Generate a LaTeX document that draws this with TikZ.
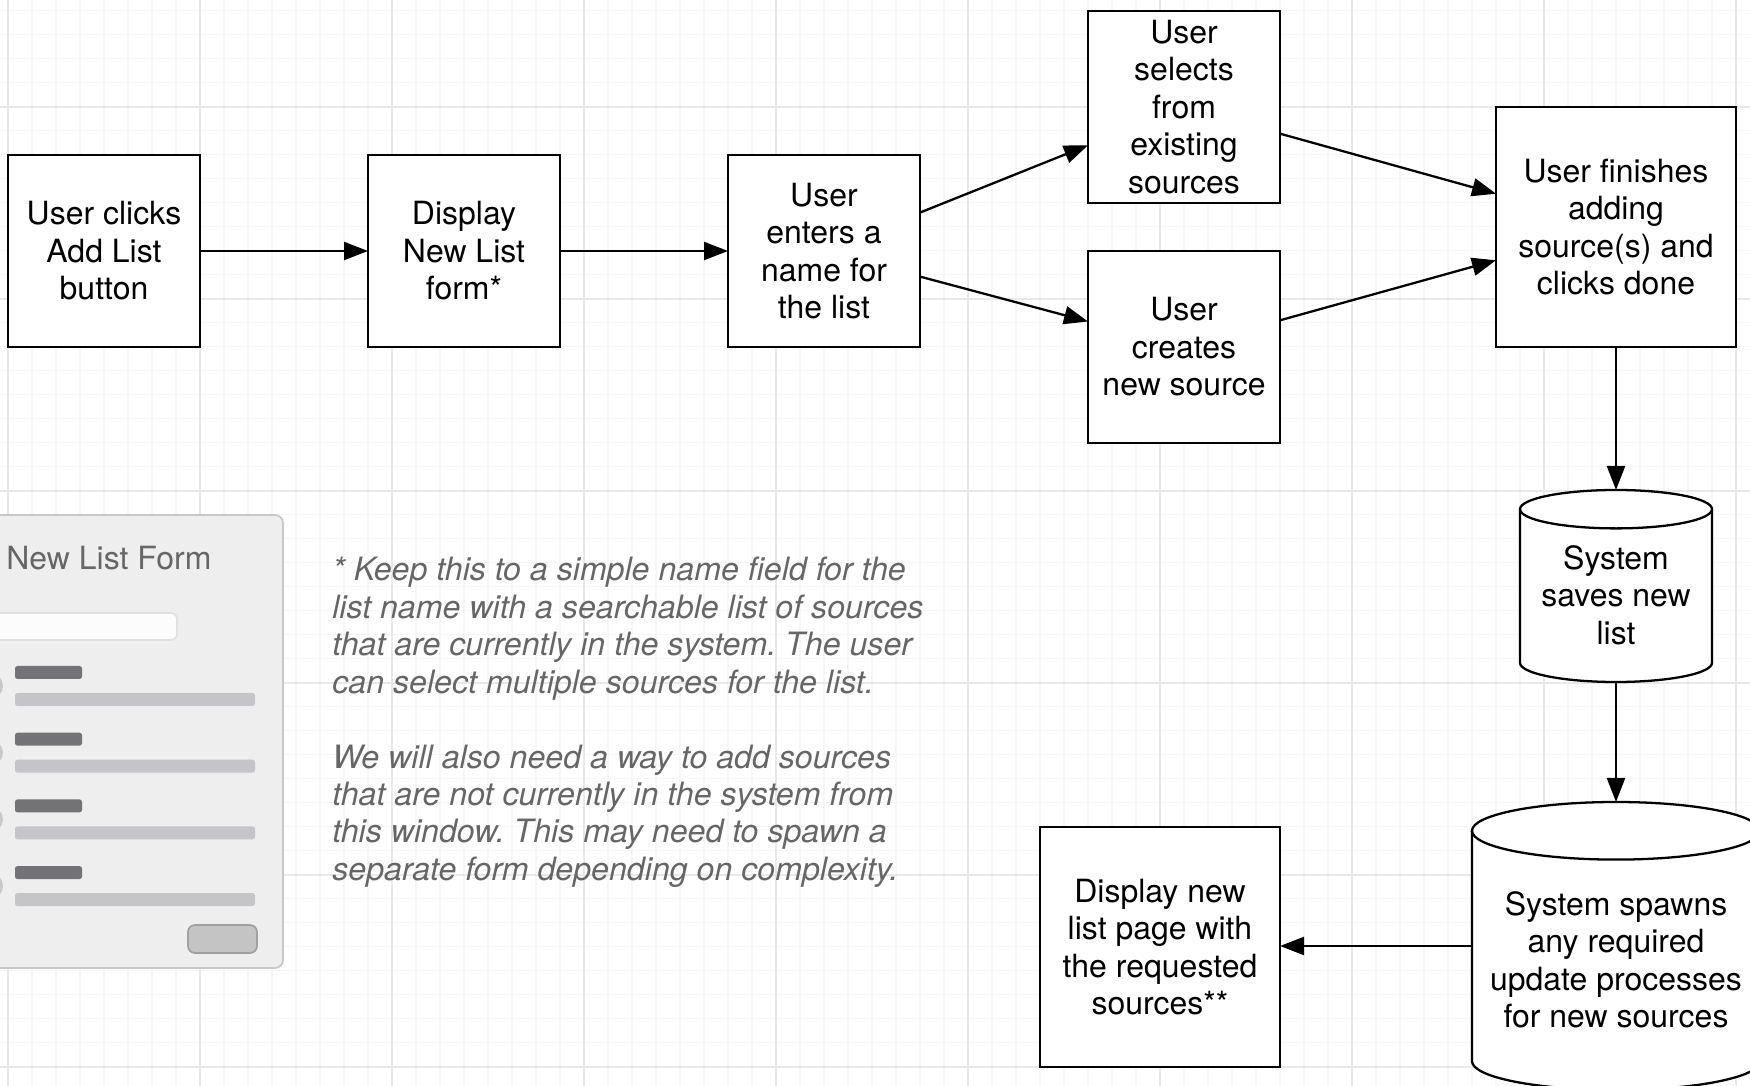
\documentclass[tikz,border=0pt]{standalone}
\usepackage{fontspec}
\setmainfont{TeX Gyre Heros}
\usetikzlibrary{arrows.meta}
\definecolor{gridminor}{HTML}{F6F6F6}
\definecolor{gridmajor}{HTML}{E9E9E9}
\definecolor{formfill}{HTML}{EEEEEE}
\definecolor{formline}{HTML}{C8C8C8}
\definecolor{formtext}{HTML}{666666}
\definecolor{fieldfill}{HTML}{FCFCFD}
\definecolor{fieldline}{HTML}{E0E0E0}
\definecolor{bardark}{HTML}{737276}
\definecolor{barlight}{HTML}{C5C4C9}
\definecolor{btnfill}{HTML}{C4C4C4}
\definecolor{btnline}{HTML}{A0A0A0}
\definecolor{notetext}{HTML}{666666}
\frenchspacing
\begin{document}
\begin{tikzpicture}[font=\fontsize{18.2}{21.3}\selectfont,
    procbox/.style={draw, line width=1.3pt, fill=white, minimum width=3.84cm,
      minimum height=3.84cm, inner sep=0pt, outer sep=0pt, align=center},
    widebox/.style={procbox, minimum width=4.8cm, minimum height=4.8cm},
    cylbox/.style={inner sep=0pt, outer sep=0pt},
    flow/.style={line width=1.3pt, -{Triangle[length=0.48cm, width=0.36cm]}}]
  \useasboundingbox (0,0) rectangle (35,-21.72);
  \clip (0,0) rectangle (35,-21.72);
  \fill[white] (0,0) rectangle (35,-21.72);
  % background grid
  \foreach \gx in {0,...,72}{
    \draw[gridminor, line width=0.9pt] ({0.16+0.48*\gx},0) -- ++(0,-21.72);
  }
  \foreach \gy in {0,...,44}{
    \draw[gridminor, line width=0.9pt] (0,{-0.213-0.48*\gy}) -- ++(35,0);
  }
  \foreach \gx in {0,...,9}{
    \draw[gridmajor, line width=1.1pt] ({0.16+3.84*\gx},0) -- ++(0,-21.72);
  }
  \foreach \gy in {0,...,5}{
    \draw[gridmajor, line width=1.1pt] (0,{-2.133-3.84*\gy}) -- ++(35,0);
  }
  % form mockup
  \draw[fill=formfill, draw=formline, line width=1pt, rounded corners=0.16cm]
    (-0.4,-10.3) rectangle (5.66,-19.36);
  \node[anchor=base west, inner sep=0pt, text=formtext] (formtitle) at (0.12,-11.4)
    {New List Form};
  \draw[fill=fieldfill, draw=fieldline, line width=1pt, rounded corners=0.12cm]
    (-0.3,-12.26) rectangle (3.54,-12.8);
  \foreach \rw in {0,...,3}{
    \fill[formline] (-0.2,{-13.72-1.334*\rw}) circle (0.26);
    \fill[bardark, rounded corners=0.05cm]
      (0.3,{-13.32-1.334*\rw}) rectangle (1.64,{-13.58-1.334*\rw});
    \fill[barlight, rounded corners=0.05cm]
      (0.3,{-13.86-1.334*\rw}) rectangle (5.1,{-14.12-1.334*\rw});
  }
  \draw[fill=btnfill, draw=btnline, line width=1pt, rounded corners=0.14cm]
    (3.76,-18.5) rectangle (5.14,-19.06);
  % note
  \node[anchor=north west, align=left, inner sep=0pt, text=notetext,
    font=\fontsize{18.3}{21.3}\selectfont\itshape] (note) at (6.64,-11.14)
    {* Keep this to a simple name field for the\\
     list name with a searchable list of sources\\
     that are currently in the system. The user\\
     can select multiple sources for the list.\\[0.748cm]
     We will also need a way to add sources\\
     that are not currently in the system from\\
     this window. This may need to spawn a\\
     separate form depending on complexity.};
  % flow steps
  \node[procbox] (click) at (2.08,-5.02) {User clicks\\Add List\\button};
  \node[procbox] (form) at (9.28,-5.02) {Display\\New List\\form*};
  \node[procbox] (name) at (16.48,-5.02) {User\\enters a\\name for\\the list};
  \node[procbox] (select) at (23.68,-2.14) {User\\selects\\from\\existing\\sources};
  \node[procbox] (create) at (23.68,-6.94) {User\\creates\\new source};
  \node[widebox] (finish) at (32.32,-4.54) {User finishes\\adding\\source(s) and\\clicks done};
  \node[widebox] (show) at (23.2,-18.94) {Display new\\list page with\\the requested\\sources**};
  % cylinders
  \node[cylbox, minimum width=3.84cm, minimum height=3.84cm] (save) at (32.32,-11.72) {};
  \draw[line width=1.3pt, fill=white]
    ([yshift=-0.384cm]save.north west) -- ([yshift=0.384cm]save.south west)
    arc[start angle=180, end angle=360, x radius=1.92, y radius=0.384]
    -- ([yshift=-0.384cm]save.north east)
    arc[start angle=0, end angle=180, x radius=1.92, y radius=0.384] -- cycle;
  \draw[line width=1.3pt] ([yshift=-0.384cm]save.north west)
    arc[start angle=180, end angle=360, x radius=1.92, y radius=0.384];
  \node[align=center] (savetext) at (32.32,-11.9) {System\\saves new\\list};
  \node[cylbox, minimum width=5.76cm, minimum height=5.76cm] (spawn) at (32.32,-18.92) {};
  \draw[line width=1.3pt, fill=white]
    ([yshift=-0.576cm]spawn.north west) -- ([yshift=0.576cm]spawn.south west)
    arc[start angle=180, end angle=360, x radius=2.88, y radius=0.576]
    -- ([yshift=-0.576cm]spawn.north east)
    arc[start angle=0, end angle=180, x radius=2.88, y radius=0.576] -- cycle;
  \draw[line width=1.3pt] ([yshift=-0.576cm]spawn.north west)
    arc[start angle=180, end angle=360, x radius=2.88, y radius=0.576];
  \node[align=center] (spawntext) at (32.32,-19.2)
    {System spawns\\any required\\update processes\\for new sources};
  % connectors
  \draw[flow] (click) -- (form);
  \draw[flow] (form) -- (name);
  \draw[flow] (name) -- (select);
  \draw[flow] (name) -- (create);
  \draw[flow] (select) -- (finish);
  \draw[flow] (create) -- (finish);
  \draw[flow] (finish) -- (save);
  \draw[flow] (save) -- (spawn);
  \draw[flow] (spawn.west) -- (spawn.west -| show.east);
\end{tikzpicture}
\end{document}
